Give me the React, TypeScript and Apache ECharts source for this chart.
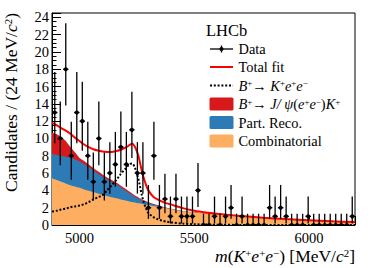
import { useEffect, useRef } from 'react';
import * as echarts from 'echarts';

const FONT = 'Liberation Serif';

// Histogram: 24 MeV bins from 4880 to 6200
const BIN_LO = 4880;
const BIN_WIDTH = 24;
const COUNTS = [
  13, 10, 18, 8, 13, 12, 8, 5, 10, 5,
  6, 7, 9, 7, 11, 6, 6, 2, 8, 2,
  3, 1, 3, 1, 1, 1, 4, 0, 0, 1,
  0, 1, 2, 0, 1, 0, 0, 0, 0, 2,
  1, 2, 1, 0, 0, 0, 1, 0, 0, 0,
  0, 0, 0, 0, 1,
];
const ZERO_BIN_UPPER = 1.3;

// Fit curves sampled at these masses
const CURVE_M = [
  4880, 4900, 4920, 4940, 4960, 4980, 5000, 5020, 5040, 5060,
  5080, 5100, 5120, 5140, 5160, 5180, 5200, 5210, 5220, 5230,
  5240, 5250, 5260, 5270, 5280, 5290, 5300, 5320, 5340, 5360,
  5380, 5400, 5450, 5500, 5550, 5600, 5700, 5800, 5900, 6000,
  6100, 6200,
];
const TOTAL_FIT = [
  11.8, 11.55, 11.2, 10.9, 10.55, 10.1, 9.7, 9.3, 9.0, 8.75,
  8.6, 8.5, 8.45, 8.45, 8.55, 8.7, 8.95, 9.1, 9.3, 9.4,
  9.1, 8.5, 7.6, 6.4, 5.4, 4.6, 4.0, 3.3, 2.95, 2.7,
  2.5, 2.35, 1.95, 1.65, 1.45, 1.3, 1.05, 0.85, 0.68, 0.55,
  0.43, 0.34,
];
const SIGNAL = [
  1.55, 1.65, 1.8, 1.9, 2.05, 2.15, 2.25, 2.4, 2.65, 2.95,
  3.2, 3.45, 4.0, 4.6, 5.2, 5.9, 6.5, 6.8, 7.05, 7.1,
  6.7, 5.9, 4.9, 3.6, 2.6, 1.9, 1.4, 0.95, 0.68, 0.5,
  0.38, 0.3, 0.16, 0.09, 0.05, 0.03, 0.01, 0, 0, 0,
  0, 0,
];
// Cumulative (stacked) tops of the filled components
const JPSI_TOP = [
  10.7, 10.5, 10.2, 9.7, 9.0, 8.4, 7.75, 7.4, 7.0, 6.6,
  6.2, 5.85, 5.5, 5.2, 4.9, 4.55, 4.2, 4.0, 3.8, 3.62,
  3.45, 3.28, 3.12, 2.98, 2.85, 2.74, 2.63, 2.46, 2.3, 2.14,
  1.99, 1.88, 1.62, 1.46, 1.32, 1.2, 0.98, 0.78, 0.63, 0.5,
  0.4, 0.31,
];
const PARTRECO_TOP = [
  8.2, 8.1, 8.0, 7.9, 7.8, 7.6, 7.35, 7.05, 6.7, 6.3,
  5.95, 5.6, 5.3, 5.0, 4.7, 4.35, 4.0, 3.82, 3.65, 3.48,
  3.3, 3.15, 3.0, 2.87, 2.75, 2.65, 2.55, 2.4, 2.25, 2.1,
  1.95, 1.85, 1.6, 1.45, 1.32, 1.2, 0.98, 0.78, 0.63, 0.5,
  0.4, 0.31,
];
const COMB_TOP = [
  5.4, 5.2, 5.0, 4.8, 4.6, 4.45, 4.3, 4.1, 3.95, 3.8,
  3.65, 3.5, 3.35, 3.2, 3.08, 2.95, 2.82, 2.76, 2.7, 2.65,
  2.6, 2.55, 2.5, 2.45, 2.4, 2.35, 2.3, 2.2, 2.12, 2.03,
  1.95, 1.85, 1.6, 1.45, 1.32, 1.2, 0.98, 0.78, 0.63, 0.5,
  0.4, 0.31,
];

const COLORS = {
  total: '#ff0000',
  jpsi: '#d7191c',
  partReco: '#2c7bb6',
  comb: '#fdae61',
};

function poissonLow(n: number) {
  if (n === 0) return 0;
  return n * Math.pow(1 - 1 / (9 * n) - 1 / (3 * Math.sqrt(n)), 3);
}
function poissonHigh(n: number) {
  if (n === 0) return ZERO_BIN_UPPER;
  const m = n + 1;
  return m * Math.pow(1 - 1 / (9 * m) + 1 / (3 * Math.sqrt(m)), 3);
}

const pairs = (ys: number[]) => CURVE_M.map((m, i) => [m, ys[i]]);

const richBase = (size: number) => ({
  i: { fontStyle: 'italic', fontSize: size, fontFamily: FONT, fill: '#000', color: '#000' },
  s: { fontSize: size * 0.62, fontFamily: FONT, verticalAlign: 'top', fill: '#000', color: '#000' },
  si: { fontSize: size * 0.62, fontFamily: FONT, fontStyle: 'italic', verticalAlign: 'top', fill: '#000', color: '#000' },
});

export default function App() {
  const ref = useRef<HTMLDivElement>(null);

  useEffect(() => {
    document.body.style.margin = '0';
    if (!ref.current) return;
    const chart = echarts.init(ref.current, undefined, { renderer: 'svg' });

    const dataPoints = COUNTS.map((n, i) => [
      BIN_LO + BIN_WIDTH * (i + 0.5),
      n,
      poissonLow(n),
      poissonHigh(n),
    ]);

    const legendX = 210;
    const legendW = 23;
    const textX = 238.5;
    const rows = [49, 67, 85.5, 104, 122.5, 141];
    const legFont = 14.4;

    const legendText = (y: number, text: string) => ({
      type: 'text',
      x: textX,
      y,
      style: {
        text,
        fontFamily: FONT,
        fontSize: legFont,
        fill: '#000',
        align: 'left',
        verticalAlign: 'middle',
        rich: richBase(legFont),
      },
    });

    const swatch = (y: number, color: string) => ({
      type: 'rect',
      shape: { x: legendX - 0.5, y: y - 6.5, width: legendW + 1, height: 13, r: 1.5 },
      style: { fill: color },
    });

    const option: any = {
      animation: false,
      grid: {
        left: 52,
        right: 19,
        top: 13,
        bottom: 43,
        show: true,
        borderColor: '#000',
        borderWidth: 1,
        backgroundColor: 'transparent',
      },
      xAxis: {
        type: 'value',
        min: 4880,
        max: 6200,
        splitNumber: 3,
        axisLine: { show: true, onZero: false, lineStyle: { color: '#000', width: 1 } },
        axisTick: { show: true, inside: true, length: 9, lineStyle: { color: '#000', width: 1 } },
        minorTick: { show: true, splitNumber: 5, length: 4.5, lineStyle: { color: '#000', width: 1 } },
        splitLine: { show: false },
        minorSplitLine: { show: false },
        axisLabel: {
          color: '#000',
          fontFamily: FONT,
          fontSize: 14.5,
          margin: 5,
          formatter: (v: number) => (v % 500 === 0 ? String(v) : ''),
        },
      },
      yAxis: {
        type: 'value',
        min: 0,
        max: 24.5,
        interval: 2,
        axisLine: { show: true, onZero: false, lineStyle: { color: '#000', width: 1 } },
        axisTick: { show: true, inside: true, length: 9, lineStyle: { color: '#000', width: 1 } },
        minorTick: { show: true, splitNumber: 4, length: 4.5, lineStyle: { color: '#000', width: 1 } },
        splitLine: { show: false },
        minorSplitLine: { show: false },
        axisLabel: {
          color: '#000',
          fontFamily: FONT,
          fontSize: 14.5,
          margin: 3,
          formatter: (v: number) => (v % 2 === 0 ? String(v) : ''),
        },
      },
      series: [
        {
          name: 'jpsi',
          type: 'line',
          data: pairs(JPSI_TOP),
          smooth: 0.3,
          showSymbol: false,
          lineStyle: { width: 0 },
          areaStyle: { color: COLORS.jpsi, opacity: 1 },
          z: 1,
          silent: true,
        },
        {
          name: 'partreco',
          type: 'line',
          data: pairs(PARTRECO_TOP),
          smooth: 0.3,
          showSymbol: false,
          lineStyle: { width: 0 },
          areaStyle: { color: COLORS.partReco, opacity: 1 },
          z: 2,
          silent: true,
        },
        {
          name: 'comb',
          type: 'line',
          data: pairs(COMB_TOP),
          smooth: 0.3,
          showSymbol: false,
          lineStyle: { width: 0 },
          areaStyle: { color: COLORS.comb, opacity: 1 },
          z: 3,
          silent: true,
        },
        {
          name: 'signal',
          type: 'line',
          data: pairs(SIGNAL),
          smooth: 0.3,
          showSymbol: false,
          lineStyle: { color: '#000', width: 2, type: [2, 1.8] },
          z: 4,
          silent: true,
        },
        {
          name: 'total',
          type: 'line',
          data: pairs(TOTAL_FIT),
          smooth: 0.3,
          showSymbol: false,
          lineStyle: { color: COLORS.total, width: 2 },
          z: 5,
          silent: true,
        },
        {
          name: 'data',
          type: 'custom',
          data: dataPoints,
          encode: { x: 0, y: 1 },
          clip: true,
          z: 10,
          renderItem: (params: any, api: any) => {
            const x = api.value(0);
            const y = api.value(1);
            const lo = api.value(2);
            const hi = api.value(3);
            const c = api.coord([x, y]);
            const cl = api.coord([x, lo]);
            const ch = api.coord([x, hi]);
            const half = api.size([BIN_WIDTH, 0])[0] / 2;
            return {
              type: 'group',
              children: [
                {
                  type: 'line',
                  shape: { x1: c[0], y1: cl[1], x2: c[0], y2: ch[1] },
                  style: { stroke: '#000', lineWidth: 1.3 },
                },
                {
                  type: 'line',
                  shape: { x1: c[0] - half, y1: c[1], x2: c[0] + half, y2: c[1] },
                  style: { stroke: '#000', lineWidth: 1.3 },
                },
                {
                  type: 'circle',
                  shape: { cx: c[0], cy: c[1], r: 2.1 },
                  style: { fill: '#000' },
                },
              ],
            };
          },
        },
      ],
      graphic: [
        {
          type: 'text',
          x: 11,
          y: 13,
          rotation: Math.PI / 2,
          style: {
            text: 'Candidates / (24 MeV/{i|c}{s|2})',
            fontFamily: FONT,
            fontSize: 17.5,
            fill: '#000',
            align: 'right',
            verticalAlign: 'middle',
            rich: richBase(17.5),
          },
        },
        {
          type: 'text',
          x: 355,
          y: 256,
          style: {
            text: '{i|m}({i|K}{s|+}{i|e}{s|+}{i|e}{s|\u2212}) [MeV/{i|c}{s|2}]',
            fontFamily: FONT,
            fontSize: 17.5,
            fill: '#000',
            align: 'right',
            verticalAlign: 'middle',
            rich: richBase(17.5),
          },
        },
        {
          type: 'text',
          x: 206,
          y: 30.5,
          style: {
            text: 'LHCb',
            fontFamily: FONT,
            fontSize: 16.5,
            fill: '#000',
            align: 'left',
            verticalAlign: 'middle',
          },
        },
        // Data sample
        {
          type: 'line',
          shape: { x1: legendX, y1: rows[0], x2: legendX + legendW, y2: rows[0] },
          style: { stroke: '#000', lineWidth: 1.3 },
        },
        {
          type: 'line',
          shape: { x1: legendX + legendW / 2, y1: rows[0] - 3.5, x2: legendX + legendW / 2, y2: rows[0] + 3.5 },
          style: { stroke: '#000', lineWidth: 1.3 },
        },
        {
          type: 'circle',
          shape: { cx: legendX + legendW / 2, cy: rows[0], r: 2.1 },
          style: { fill: '#000' },
        },
        legendText(rows[0], 'Data'),
        // Total fit
        {
          type: 'line',
          shape: { x1: legendX, y1: rows[1], x2: legendX + legendW, y2: rows[1] },
          style: { stroke: COLORS.total, lineWidth: 2 },
        },
        legendText(rows[1], 'Total fit'),
        // Signal
        {
          type: 'line',
          shape: { x1: legendX, y1: rows[2], x2: legendX + legendW, y2: rows[2] },
          style: { stroke: '#000', lineWidth: 2, lineDash: [2, 1.8] },
        },
        legendText(rows[2], '{i|B}{s|+}\u2192 {i|K}{s|+}{i|e}{s|+}{i|e}{s|\u2212}'),
        swatch(rows[3], COLORS.jpsi),
        legendText(rows[3], '{i|B}{s|+}\u2192 {i|J/ \u03c8}({i|e}{s|+}{i|e}{s|\u2212}){i|K}{s|+}'),
        swatch(rows[4], COLORS.partReco),
        legendText(rows[4], 'Part. Reco.'),
        swatch(rows[5], COLORS.comb),
        legendText(rows[5], 'Combinatorial'),
      ],
    };

    chart.setOption(option);
    return () => chart.dispose();
  }, []);

  return <div ref={ref} style={{ width: 374, height: 268 }} />;
}
